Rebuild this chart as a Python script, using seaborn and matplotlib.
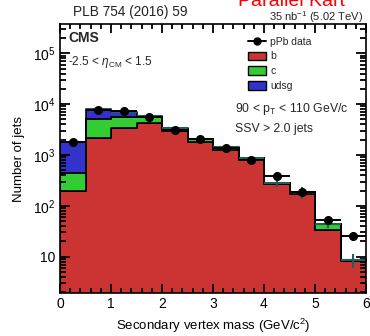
import numpy as np
import pandas as pd
import matplotlib
matplotlib.use("Agg")
import matplotlib.pyplot as plt
import seaborn as sns
from matplotlib.ticker import MultipleLocator, FixedLocator, FixedFormatter, NullFormatter
from matplotlib.patches import Patch
from matplotlib.lines import Line2D

# Secondary vertex mass binning (GeV/c^2)
bin_edges = [0.0, 0.5, 1.0, 1.5, 2.0, 2.5, 3.0, 3.5, 4.0, 4.5, 5.0, 5.5, 6.0]
mass_centers = [0.25, 0.75, 1.25, 1.75, 2.25, 2.75, 3.25, 3.75, 4.25, 4.75, 5.25, 5.75]

# Simulated jet counts per flavour
jets_b = [196, 2190, 3440, 4200, 3000, 1830, 1250, 800, 270, 171, 33, 8.3]
jets_c = [247, 2915, 2070, 1270, 250, 200, 140, 70, 12, 12, 11, 0.3]
jets_udsg = [1385, 2820, 1600, 380, 100, 40, 25, 15, 3, 2, 0.5, 0.1]
mc_stat_err = [100, 250, 220, 200, 150, 120, 100, 90, 50, 50, 8, 2.8]

# pPb data
data_counts = [1830, 7800, 7270, 5600, 3050, 2090, 1370, 800, 390, 187, 52, 25.5]

flavours = ["b", "c", "udsg"]
colors = {"b": "#cc3333", "c": "#33cc33", "udsg": "#3333cc"}
teal = "#1f5f55"

sns.set_style("ticks")
plt.rcParams["font.family"] = ["Liberation Sans", "DejaVu Sans"]
plt.rcParams["mathtext.fontset"] = "custom"
plt.rcParams["mathtext.rm"] = "Liberation Sans"
plt.rcParams["mathtext.it"] = "Liberation Sans:italic"
plt.rcParams["mathtext.bf"] = "Liberation Sans:bold"

df = pd.DataFrame({
    "mass": np.tile(mass_centers, 3),
    "jets": np.concatenate([jets_b, jets_c, jets_udsg]),
    "flavour": np.repeat(flavours, len(mass_centers)),
})

fig = plt.figure(figsize=(3.70, 3.36), dpi=100)
ax = fig.add_axes([60 / 370, 43 / 336, 306 / 370, 269 / 336])
ax.set_yscale("log")

sns.histplot(data=df, x="mass", weights="jets", hue="flavour",
             hue_order=["udsg", "c", "b"], bins=bin_edges,
             multiple="stack", element="step", palette=colors,
             alpha=1, edgecolor="black", linewidth=1.2, legend=False, ax=ax)

tot = np.array(jets_b) + np.array(jets_c) + np.array(jets_udsg)
ax.errorbar(mass_centers, tot, xerr=0.25, yerr=mc_stat_err, fmt="none",
            ecolor=teal, elinewidth=1.5, capsize=0, zorder=4)

data = np.array(data_counts)
ax.errorbar(mass_centers, data, xerr=0.25, yerr=np.sqrt(data), fmt="o",
            color="black", ms=5.5, elinewidth=1.4, capsize=0, zorder=5)

ax.set_xlim(0, 6)
ax.set_ylim(1.93, 3.77e5)

ax.xaxis.set_major_locator(MultipleLocator(1))
ax.xaxis.set_minor_locator(MultipleLocator(0.2))
ax.yaxis.set_major_locator(FixedLocator([10, 1e2, 1e3, 1e4, 1e5]))
ax.yaxis.set_major_formatter(FixedFormatter(["10", "$10^2$", "$10^3$", "$10^4$", "$10^5$"]))
ax.yaxis.set_minor_locator(FixedLocator(
    [m * 10.0 ** e for e in range(0, 6) for m in range(2, 10)]))
ax.yaxis.set_minor_formatter(NullFormatter())

# Inward ticks on all four sides, drawn above the filled histograms
ax.set_axisbelow(False)
ax.tick_params(which="both", direction="in", color="black", width=1.3,
               top=True, right=True, bottom=True, left=True, zorder=6)
ax.tick_params(axis="x", which="major", length=6.5, labelsize=10,
               labelcolor="black", pad=3)
ax.tick_params(axis="x", which="minor", length=3.5)
ax.tick_params(axis="y", which="major", length=7.5, labelsize=10,
               labelcolor="black", pad=3)
ax.tick_params(axis="y", which="minor", length=4)
for s in ax.spines.values():
    s.set_visible(True)
    s.set_color("black")
    s.set_linewidth(1.2)
    s.set_zorder(7)

ax.set_xlabel("Secondary vertex mass (GeV/c$^2$)", fontsize=9.5, labelpad=4,
              color="black")
ax.set_ylabel("Number of jets", fontsize=9.5, labelpad=6, color="black")

ax.text(0.026, 0.948, "CMS", transform=ax.transAxes, fontsize=10,
        fontweight="bold", va="center", ha="left")
ax.text(0.026, 0.859, r"-2.5 < $\eta_{\rm CM}$ < 1.5", transform=ax.transAxes,
        fontsize=8.5, va="center", ha="left")
ax.text(0.572, 0.683, r"90 < p$_{\rm T}$ < 110 GeV/c", transform=ax.transAxes,
        fontsize=8.8, va="center", ha="left")
ax.text(0.572, 0.608, "SSV > 2.0 jets", transform=ax.transAxes,
        fontsize=8.8, va="center", ha="left")

handles = [
    Line2D([0], [0], color="black", marker="o", ms=5, lw=1.4),
    Patch(facecolor=colors["b"], edgecolor="black", linewidth=1.0),
    Patch(facecolor=colors["c"], edgecolor="black", linewidth=1.0),
    Patch(facecolor=colors["udsg"], edgecolor="black", linewidth=1.0),
]
ax.legend(handles, ["pPb data", "b", "c", "udsg"], loc="upper left",
          bbox_to_anchor=(0.6, 0.968), frameon=False, fontsize=7.5,
          handlelength=1.75, handleheight=0.9, handletextpad=0.4,
          labelspacing=0.45, borderaxespad=0)

fig.text(73 / 370, 1 - 12 / 336, "PLB 754 (2016) 59", fontsize=9.8,
         color="#222222", va="center", ha="left")
fig.text(363 / 370, 1 - 17 / 336, "35 nb$^{-1}$ (5.02 TeV)", fontsize=8,
         va="center", ha="right")
fig.text(238 / 370, 1 - 6 / 336, "Parallel Kart", fontsize=14,
         color="#ff0000", va="baseline", ha="left")

# Make sure every tick mark carries the final style once the ticks exist
fig.canvas.draw()
for axis, maj_len, min_len in ((ax.xaxis, 6.5, 3.5), (ax.yaxis, 7.5, 4.0)):
    for ticks, length in ((axis.get_major_ticks(), maj_len),
                          (axis.get_minor_ticks(), min_len)):
        for t in ticks:
            for line in (t.tick1line, t.tick2line):
                line.set_visible(True)
                line.set_markersize(length)
                line.set_markeredgewidth(1.3)
                line.set_color("black")
                line.set_markeredgecolor("black")
                line.set_zorder(6)

fig.savefig("out.png", dpi=100)
